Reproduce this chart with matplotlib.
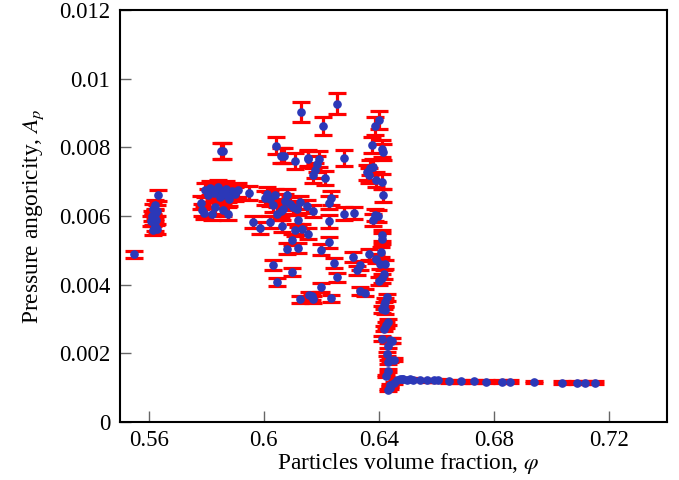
import matplotlib
matplotlib.use("Agg")
import matplotlib.pyplot as plt

# ---- data ----
phi = [
    0.5550,
    0.5633, 0.5622, 0.5616, 0.5628, 0.5620, 0.5610, 0.5616, 0.5607, 0.5625, 0.5622, 0.5614, 0.5628,
    0.5850, 0.5858, 0.5796, 0.5813, 0.5836, 0.5854, 0.5865, 0.5848, 0.5859, 0.5877, 0.5911, 0.5900,
    0.5949, 0.5781, 0.5784, 0.5793, 0.5819, 0.5830, 0.5859, 0.5875, 0.5825, 0.5842, 0.5870, 0.5890,
    0.5805, 0.5880,
    0.6004, 0.6010, 0.6039, 0.6033, 0.6066, 0.6080, 0.6074, 0.6091, 0.6101, 0.6115, 0.6126, 0.6149,
    0.6022, 0.6047, 0.6059, 0.5961, 0.5985, 0.6022, 0.6062, 0.6120, 0.6109, 0.6132, 0.6155, 0.6097,
    0.6082, 0.6118, 0.6030, 0.6097, 0.6047, 0.6126, 0.6157, 0.6167, 0.6172,
    0.6129, 0.6043, 0.6059, 0.6070, 0.6109, 0.6152,
    0.6254, 0.6207, 0.6155, 0.6190, 0.6277, 0.6184, 0.6178, 0.6170, 0.6211, 0.6234, 0.6225, 0.6170,
    0.6277, 0.6312, 0.6225, 0.6228, 0.6198, 0.6309, 0.6335, 0.6323, 0.6245, 0.6254, 0.6198, 0.6335,
    0.6352, 0.6234,
    0.6401, 0.6387, 0.6375, 0.6410, 0.6414, 0.6381, 0.6370, 0.6358, 0.6364, 0.6390, 0.6410, 0.6414,
    0.6398, 0.6381, 0.6387, 0.6410, 0.6410, 0.6408, 0.6366, 0.6390, 0.6404, 0.6422, 0.6416, 0.6410,
    0.6401, 0.6428, 0.6422, 0.6416, 0.6410, 0.6422, 0.6433, 0.6425, 0.6416, 0.6410, 0.6437, 0.6445,
    0.6433, 0.6428, 0.6439, 0.6451, 0.6433, 0.6430, 0.6425, 0.6433, 0.6437, 0.6439, 0.6451, 0.6462,
    0.6474, 0.6480, 0.6485,
    0.6497, 0.6509, 0.6520, 0.6543, 0.6567, 0.6590, 0.6604, 0.6644, 0.6686, 0.6731, 0.6772, 0.6828,
    0.6857, 0.6938, 0.7036, 0.7089, 0.7115, 0.7152,
]

ap = [
    0.00488,
    0.00660, 0.00633, 0.00621, 0.00616, 0.00605, 0.00600, 0.00589, 0.00585, 0.00587, 0.00570, 0.00558, 0.00563,
    0.00789, 0.00789, 0.00676, 0.00682, 0.00679, 0.00674, 0.00670, 0.00655, 0.00660, 0.00660, 0.00676, 0.00665,
    0.00668, 0.00639, 0.00618, 0.00608, 0.00605, 0.00626, 0.00618, 0.00607, 0.00668, 0.00685, 0.00680, 0.00672,
    0.00660, 0.00650,
    0.00653, 0.00665, 0.00660, 0.00631, 0.00621, 0.00660, 0.00645, 0.00636, 0.00626, 0.00621, 0.00640, 0.00628,
    0.00650, 0.00607, 0.00616, 0.00582, 0.00566, 0.00582, 0.00570, 0.00587, 0.00560, 0.00561, 0.00549, 0.00531,
    0.00505, 0.00507, 0.00458, 0.00437, 0.00408, 0.00357, 0.00369, 0.00366, 0.00357,
    0.00902, 0.00805, 0.00776, 0.00776, 0.00760, 0.00770,
    0.00927, 0.00861, 0.00767, 0.00767, 0.00770, 0.00752, 0.00733, 0.00718, 0.00711, 0.00653, 0.00638, 0.00614,
    0.00607, 0.00608, 0.00584, 0.00524, 0.00502, 0.00480, 0.00456, 0.00442, 0.00463, 0.00422, 0.00392, 0.00382,
    0.00377, 0.00360,
    0.00880, 0.00861, 0.00807, 0.00796, 0.00786, 0.00744, 0.00740, 0.00728, 0.00718, 0.00706, 0.00700, 0.00660,
    0.00600, 0.00589, 0.00602, 0.00544, 0.00534, 0.00495, 0.00488, 0.00476, 0.00461, 0.00459, 0.00430, 0.00418,
    0.00411, 0.00363, 0.00350, 0.00340, 0.00328, 0.00326, 0.00292, 0.00282, 0.00272, 0.00243, 0.00238, 0.00237,
    0.00222, 0.00197, 0.00180, 0.00182, 0.00175, 0.00149, 0.00134, 0.00093, 0.00100, 0.00108, 0.00113, 0.00122,
    0.00124, 0.00124, 0.00124,
    0.00123, 0.00125, 0.00122, 0.00122, 0.00121, 0.00121, 0.00121, 0.00119, 0.00119, 0.00118, 0.00117, 0.00117,
    0.00117, 0.00116, 0.00115, 0.00115, 0.00115, 0.00115,
]

ap_err = [
    0.00009,
    0.00016, 0.00015, 0.00015, 0.00015, 0.00015, 0.00015, 0.00014, 0.00014, 0.00014, 0.00014, 0.00014, 0.00014,
    0.00024, 0.00024, 0.00021, 0.00021, 0.00021, 0.00021, 0.00021, 0.00020, 0.00020, 0.00020, 0.00021, 0.00020,
    0.00020, 0.00019, 0.00018, 0.00018, 0.00018, 0.00019, 0.00018, 0.00018, 0.00020, 0.00021, 0.00021, 0.00020,
    0.00020, 0.00020,
    0.00020, 0.00020, 0.00020, 0.00019, 0.00019, 0.00020, 0.00019, 0.00019, 0.00019, 0.00019, 0.00019, 0.00019,
    0.00020, 0.00018, 0.00018, 0.00017, 0.00017, 0.00017, 0.00017, 0.00018, 0.00017, 0.00017, 0.00016, 0.00016,
    0.00015, 0.00015, 0.00014, 0.00013, 0.00012, 0.00011, 0.00011, 0.00011, 0.00011,
    0.00029, 0.00024, 0.00023, 0.00023, 0.00023, 0.00023,
    0.00030, 0.00026, 0.00023, 0.00023, 0.00023, 0.00023, 0.00022, 0.00022, 0.00021, 0.00020, 0.00019, 0.00018,
    0.00018, 0.00018, 0.00018, 0.00016, 0.00015, 0.00014, 0.00014, 0.00013, 0.00014, 0.00013, 0.00012, 0.00011,
    0.00011, 0.00011,
    0.00027, 0.00026, 0.00024, 0.00024, 0.00024, 0.00022, 0.00022, 0.00022, 0.00022, 0.00021, 0.00021, 0.00020,
    0.00018, 0.00018, 0.00018, 0.00016, 0.00016, 0.00015, 0.00015, 0.00014, 0.00014, 0.00014, 0.00013, 0.00013,
    0.00012, 0.00011, 0.00011, 0.00010, 0.00010, 0.00010, 0.00009, 0.00008, 0.00008, 0.00007, 0.00007, 0.00007,
    0.00007, 0.00006, 0.00005, 0.00005, 0.00005, 0.00004, 0.00004, 0.00003, 0.00003, 0.00003, 0.00003, 0.00004,
    0.00004, 0.00004, 0.00004,
    0.00004, 0.00004, 0.00004, 0.00004, 0.00004, 0.00004, 0.00004, 0.00004, 0.00004, 0.00004, 0.00004, 0.00004,
    0.00004, 0.00003, 0.00003, 0.00003, 0.00003, 0.00003,
]

x_ticks = [0.56, 0.60, 0.64, 0.68, 0.72]
x_ticklabels = ["0.56", "0.6", "0.64", "0.68", "0.72"]
y_ticks = [0, 0.002, 0.004, 0.006, 0.008, 0.010, 0.012]
y_ticklabels = ["0", "0.002", "0.004", "0.006", "0.008", "0.01", "0.012"]

# ---- style ----
plt.rcParams["font.family"] = ["Liberation Serif", "DejaVu Serif"]
plt.rcParams["mathtext.fontset"] = "stix"

fig = plt.figure(figsize=(6.79, 4.8), dpi=100)
ax = fig.add_axes([120 / 679, 58 / 480, 546.7 / 679, 412 / 480])

ax.errorbar(phi, ap, yerr=ap_err, fmt="none", ecolor="#ff0000",
            elinewidth=2.3, capsize=6.2, capthick=2.3, zorder=2)
ax.plot(phi, ap, linestyle="none", marker="o", markersize=5.2,
        markerfacecolor="#2b38b8", markeredgecolor="#2b38b8", zorder=3)

ax.set_xlim(0.55, 0.74)
ax.set_ylim(0, 0.012)
ax.set_xticks(x_ticks)
ax.set_xticklabels(x_ticklabels)
ax.set_yticks(y_ticks)
ax.set_yticklabels(y_ticklabels)

ax.tick_params(axis="both", direction="in", length=8, width=1, color="#666666",
               labelsize=16.5, top=False, right=False)
ax.tick_params(axis="x", pad=6)
ax.tick_params(axis="y", pad=7)
for s in ax.spines.values():
    s.set_linewidth(1.5)
    s.set_color("black")

ax.set_xlabel(r"Particles volume fraction, $\varphi$", fontsize=16.8)
ax.xaxis.set_label_coords(0.527, -0.071)
ax.set_ylabel(r"Pressure angoricity, $A_p$", fontsize=16.8, labelpad=9)

fig.savefig("out.png", dpi=100)
